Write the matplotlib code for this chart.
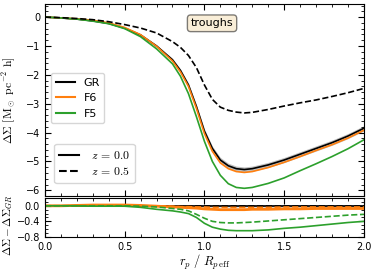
import matplotlib
matplotlib.use("Agg")
import matplotlib.pyplot as plt
from matplotlib.lines import Line2D
from matplotlib.ticker import MultipleLocator
import numpy as np

plt.rcParams['mathtext.fontset'] = 'cm'
plt.rcParams['xtick.direction'] = 'in'
plt.rcParams['ytick.direction'] = 'in'
plt.rcParams['xtick.top'] = True
plt.rcParams['ytick.right'] = True

# radius grid (r_p / R_p,eff)
rp = [0, 0.1, 0.2, 0.3, 0.4, 0.5, 0.6, 0.7, 0.8, 0.85, 0.9, 0.95, 1.0, 1.05,
      1.1, 1.15, 1.2, 1.25, 1.3, 1.4, 1.5, 1.6, 1.7, 1.8, 1.9, 2.0]

# Delta Sigma, z = 0.0
gr_z0 = [0, -0.03, -0.07, -0.13, -0.22, -0.38, -0.62, -1.0, -1.48, -1.85, -2.35, -3.1,
         -3.95, -4.55, -4.95, -5.15, -5.25, -5.28, -5.25, -5.12, -4.95, -4.75, -4.55,
         -4.35, -4.12, -3.85]
gr_err = [0, 0.01, 0.01, 0.02, 0.02, 0.03, 0.03, 0.04, 0.05, 0.05, 0.06, 0.07, 0.08,
          0.08, 0.09, 0.09, 0.09, 0.09, 0.09, 0.09, 0.09, 0.09, 0.09, 0.09, 0.09, 0.09]
f6_z0 = [0, -0.03, -0.06, -0.11, -0.2, -0.36, -0.61, -1.01, -1.52, -1.9, -2.4, -3.16,
         -4.03, -4.65, -5.05, -5.25, -5.35, -5.38, -5.35, -5.21, -5.03, -4.83, -4.62,
         -4.42, -4.19, -3.92]
f5_z0 = [0, -0.03, -0.07, -0.14, -0.23, -0.4, -0.68, -1.1, -1.62, -2.05, -2.65, -3.45,
         -4.3, -5.0, -5.48, -5.77, -5.9, -5.93, -5.9, -5.76, -5.57, -5.32, -5.08,
         -4.83, -4.56, -4.25]
# Delta Sigma, z = 0.5
gr_z05 = [0, -0.02, -0.05, -0.09, -0.16, -0.26, -0.38, -0.55, -0.85, -1.05, -1.33, -1.75,
          -2.35, -2.85, -3.12, -3.23, -3.29, -3.32, -3.3, -3.2, -3.08, -2.97, -2.87,
          -2.75, -2.62, -2.47]

# differences to GR
gr_diff = [0] * len(rp)
gr_diff_err = [0, 0.01, 0.01, 0.01, 0.01, 0.02, 0.02, 0.02, 0.02, 0.02, 0.03, 0.03, 0.03,
               0.03, 0.03, 0.03, 0.03, 0.03, 0.03, 0.03, 0.03, 0.03, 0.03, 0.03, 0.03, 0.03]
f6_diff_z0 = [0, 0.0, 0.01, 0.02, 0.02, 0.02, 0.01, -0.01, -0.03, -0.04, -0.05, -0.06,
              -0.08, -0.09, -0.1, -0.1, -0.1, -0.1, -0.09, -0.09, -0.08, -0.08, -0.07,
              -0.07, -0.07, -0.07]
f6_diff_z05 = [0, 0, 0, 0.01, 0.01, 0.01, 0.0, 0.0, -0.01, -0.02, -0.02, -0.03, -0.03,
               -0.04, -0.04, -0.04, -0.04, -0.04, -0.04, -0.04, -0.03, -0.03, -0.03,
               -0.03, -0.03, -0.03]
f5_diff_z0 = [0, 0, 0, -0.01, -0.01, -0.01, -0.04, -0.09, -0.13, -0.16, -0.2, -0.3,
              -0.45, -0.55, -0.6, -0.63, -0.64, -0.64, -0.64, -0.62, -0.58, -0.55,
              -0.51, -0.47, -0.43, -0.4]
f5_diff_z05 = [0, 0, 0, 0, 0, 0, -0.01, -0.03, -0.07, -0.09, -0.13, -0.22, -0.32, -0.4,
               -0.43, -0.44, -0.44, -0.43, -0.42, -0.39, -0.36, -0.33, -0.3, -0.27,
               -0.24, -0.22]

c_gr, c_f6, c_f5 = 'black', '#ff7f0e', '#2ca02c'

fig = plt.figure(figsize=(3.74, 2.72), dpi=100)
ax = fig.add_axes([0.120, 0.279, 0.853, 0.706])
ax2 = fig.add_axes([0.120, 0.129, 0.853, 0.143])

rp = np.array(rp)
lo = np.array(gr_z0) - np.array(gr_err)
hi = np.array(gr_z0) + np.array(gr_err)
ax.fill_between(rp, lo, hi, color='grey', alpha=0.5, lw=0)
ax.plot(rp, gr_z0, color=c_gr, lw=1.2)
ax.plot(rp, f6_z0, color=c_f6, lw=1.2)
ax.plot(rp, f5_z0, color=c_f5, lw=1.2)
ax.plot(rp, gr_z05, color=c_gr, lw=1.2, ls='--')

ax.set_xlim(0, 2)
ax.set_ylim(-6.2, 0.45)
ax.set_xticklabels([])
ax.xaxis.set_major_locator(MultipleLocator(0.5))
ax.xaxis.set_minor_locator(MultipleLocator(0.1))
ax.yaxis.set_major_locator(MultipleLocator(1))
ax.yaxis.set_minor_locator(MultipleLocator(0.2))
ax.set_ylabel(r'$\Delta\Sigma\ [\mathrm{M_\odot\ pc^{-2}\ h}]$', fontsize=8.5)
ax.yaxis.set_label_coords(-0.085, 0.5)

ax.text(0.524, 0.9, 'troughs', transform=ax.transAxes, fontsize=8, ha='center',
        va='center', bbox=dict(boxstyle='round', facecolor='wheat', alpha=0.5))

h1 = [Line2D([], [], color=c, lw=1.5) for c in (c_gr, c_f6, c_f5)]
leg1 = ax.legend(h1, ['GR', 'F6', 'F5'], loc='lower left', bbox_to_anchor=(0.02, 0.38),
                 borderaxespad=0, fontsize=8, handlelength=1.7)
ax.add_artist(leg1)
h2 = [Line2D([], [], color='black', lw=1.5, ls=s) for s in ('-', '--')]
ax.legend(h2, [r'$z\,=\,0.0$', r'$z\,=\,0.5$'], loc='lower left',
          bbox_to_anchor=(0.03, 0.068), borderaxespad=0, fontsize=8.5,
          handlelength=1.7, labelspacing=0.3, handletextpad=1.0)

lo2 = np.array(gr_diff) - np.array(gr_diff_err)
hi2 = np.array(gr_diff) + np.array(gr_diff_err)
ax2.fill_between(rp, lo2, hi2, color='grey', alpha=0.5, lw=0)
ax2.plot(rp, gr_diff, color=c_gr, lw=1.2)
ax2.plot(rp, gr_diff, color=c_gr, lw=1.2, ls='--')
ax2.plot(rp, f6_diff_z0, color=c_f6, lw=2)
ax2.plot(rp, f6_diff_z05, color=c_f6, lw=1.2, ls='--')
ax2.plot(rp, f5_diff_z0, color=c_f5, lw=1.2)
ax2.plot(rp, f5_diff_z05, color=c_f5, lw=1.2, ls='--')

ax2.set_xlim(0, 2)
ax2.set_ylim(-0.8, 0.2)
ax2.xaxis.set_major_locator(MultipleLocator(0.5))
ax2.xaxis.set_minor_locator(MultipleLocator(0.1))
ax2.yaxis.set_major_locator(MultipleLocator(0.4))
ax2.yaxis.set_minor_locator(MultipleLocator(0.1))
ax2.set_yticks([0.0, -0.4, -0.8])
ax2.set_ylabel(r'$\Delta\Sigma - \Delta\Sigma_{GR}$', fontsize=8)
ax2.yaxis.set_label_coords(-0.095, 0.3)
ax2.set_xlabel(r'$r_p\ /\ R_{p\,\mathrm{eff}}$', fontsize=9, labelpad=1)

for a in (ax, ax2):
    a.tick_params(which='major', length=4, labelsize=7)
    a.tick_params(which='minor', length=2)

plt.savefig('out.png', dpi=100)
